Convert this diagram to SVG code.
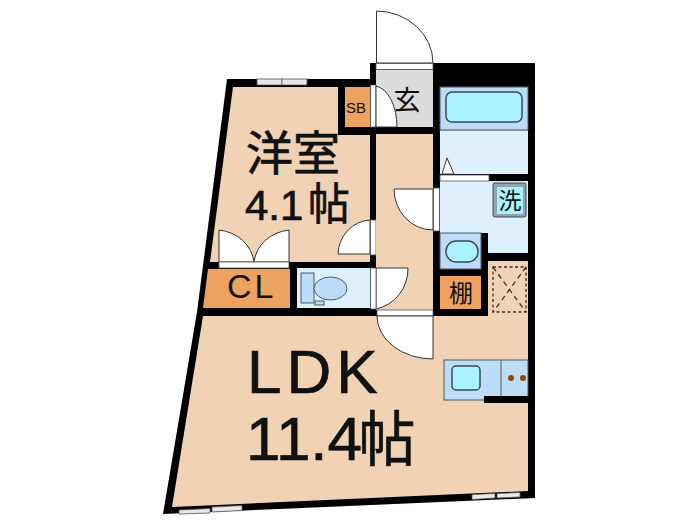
<svg xmlns="http://www.w3.org/2000/svg" width="700" height="525" viewBox="0 0 700 525">
<style>
.f{fill:#f2d2b4}.o{fill:#eda25f}.b{fill:#bcdcf8;stroke:#4a5a68;stroke-width:1}.l{fill:#dff0fd}
.c{fill:#abf2ff;stroke:#3c4a54;stroke-width:1.5}
.d{fill:#fff;stroke:#333;stroke-width:1}
.t{fill:#fff;stroke:#555;stroke-width:.8}
.w{fill:#e8e8e8;stroke:#555;stroke-width:.8}
text{fill:#111;font-family:"Liberation Sans","Noto Sans CJK JP",sans-serif}
.j{font-family:"Noto Sans CJK JP","Liberation Sans",sans-serif;text-anchor:middle}
.h{stroke:#111;stroke-width:.7}
</style>
<polygon id="walls" fill="#000" points="227,79 370,79 370,63 535,63 535,498 163,514 197,312"/>
<g id="western-room">
<polygon class="f" points="233,87 338,87 338,135 370,135 370,262 210,262"/>
<rect class="w" x="257" y="79" width="25" height="6"/><rect class="w" x="282" y="79" width="25" height="6"/>
<path class="d" d="M219 230A40 36 0 0 1 254 262H219Z"/><path class="d" d="M289 230A40 36 0 0 0 254 262H289Z"/>
<rect class="t" x="219" y="262" width="70" height="6"/>
<path class="d" d="M370 220A34 35 0 0 0 338 254H370Z"/><rect class="t" x="370.500" y="220" width="5.500" height="35"/>
<text class="j h" x="293" y="170" font-size="47">洋室</text>
<text class="h" x="245" y="220" font-size="42">4.1</text>
<text class="j h" x="329" y="220" font-size="44" transform="translate(329 0) scale(.95 1) translate(-329 0)">帖</text>
</g>
<g id="sb"><rect class="o" x="345" y="87" width="25" height="40"/><text x="346" y="112.500" font-size="15">SB</text></g>
<g id="entrance">
<rect x="376" y="70" width="57" height="57" fill="#dcdcdc"/>
<path class="d" d="M376.500 11A57 52 0 0 1 433 63H376.500Z"/>
<rect class="t" x="376" y="63.500" width="57" height="6"/>
<rect class="t" x="370.500" y="85" width="5.500" height="42"/>
<path class="d" d="M376 86A24 41 0 0 1 397 127H376Z"/>
<text class="j" x="407" y="110" font-size="27">玄</text>
</g>
<g id="bath">
<rect class="b" x="440" y="87" width="88" height="43"/>
<rect class="l" x="440" y="130.500" width="88" height="43.500"/>
<rect class="c" x="446" y="92" width="76" height="30" rx="6"/>
<path d="M447 158L442 174H454Z" fill="#fff" stroke="#333"/>
</g>
<g id="corridor">
<rect class="f" x="376" y="134" width="57" height="176"/>
<path class="d" d="M433 189H394A39 41 0 0 0 433 230Z"/>
<rect class="t" x="433.500" y="188" width="6" height="43"/>
<path class="d" d="M376 268H408A40 41 0 0 1 376 309Z"/>
<rect class="t" x="370.500" y="268" width="5.500" height="41"/>
</g>
<g id="washroom">
<polygon class="l" points="440,181 528,181 528,253 488,253 488,233 440,233"/>
<rect class="t" x="440" y="175" width="49" height="6"/>
<rect x="493" y="183" width="33" height="34" rx="2" fill="#8fa3b0" stroke="#445"/>
<rect x="497" y="187" width="26" height="27" fill="#abf2ff"/>
<text class="j" x="510" y="209" font-size="23">洗</text>
<rect class="b" x="440" y="233" width="41" height="36"/>
<rect class="c" x="446" y="241" width="32" height="21" rx="10"/>
</g>
<g id="shelf"><rect class="o" x="440" y="276" width="41" height="33"/><text class="j" x="461" y="302" font-size="24">棚</text></g>
<g id="closet"><polygon class="o" points="208,269 290,269 290,308 203,308"/><text x="227" y="298" font-size="34" letter-spacing="3">CL</text></g>
<g id="toilet">
<rect class="l" x="297" y="268" width="73" height="40"/>
<rect class="b" x="301" y="273" width="13" height="30"/>
<rect class="b" x="315" y="301" width="9" height="4"/>
<ellipse class="b" cx="330.500" cy="288.500" rx="16.500" ry="11.500"/>
</g>
<g id="ldk">
<polygon class="f" points="203,316 488,316 488,261 528,261 528,491 172,507"/>
<rect class="t" x="377" y="310" width="56" height="6"/>
<path class="d" d="M433 316V359A56 43 0 0 1 377 316Z"/>
<rect x="493" y="267" width="33" height="45" fill="none" stroke="#333" stroke-width="1.300" stroke-dasharray="3 2.500"/>
<path d="M493 267L526 312M526 267L493 312" fill="none" stroke="#333" stroke-width="1.300" stroke-dasharray="5 4"/>
<rect class="b" x="444" y="360" width="84" height="40"/>
<line x1="501" y1="360" x2="501" y2="400" stroke="#4a5a68"/>
<rect class="c" x="452" y="366" width="28" height="24" rx="4"/>
<circle cx="511" cy="378" r="3" fill="#8a4a10"/><circle cx="523" cy="378" r="3" fill="#8a4a10"/>
<rect x="484" y="396" width="46" height="7" fill="#000"/>
<polygon class="w" points="179,510 210,508.500 210,513 179,514"/><polygon class="w" points="212,507 242,505.500 242,510.500 212,512"/>
<polygon class="w" points="472,494.500 495,493.500 495,498 472,499.500"/><polygon class="w" points="497,493.500 520,492.500 520,497 497,498"/>
<text class="h" x="247" y="393" font-size="62" letter-spacing="5">LDK</text>
<text class="h" x="246" y="460" font-size="62">11.4</text>
<text class="j h" x="387" y="461" font-size="60" transform="translate(387 0) scale(.95 1) translate(-387 0)">帖</text>
</g>
</svg>
